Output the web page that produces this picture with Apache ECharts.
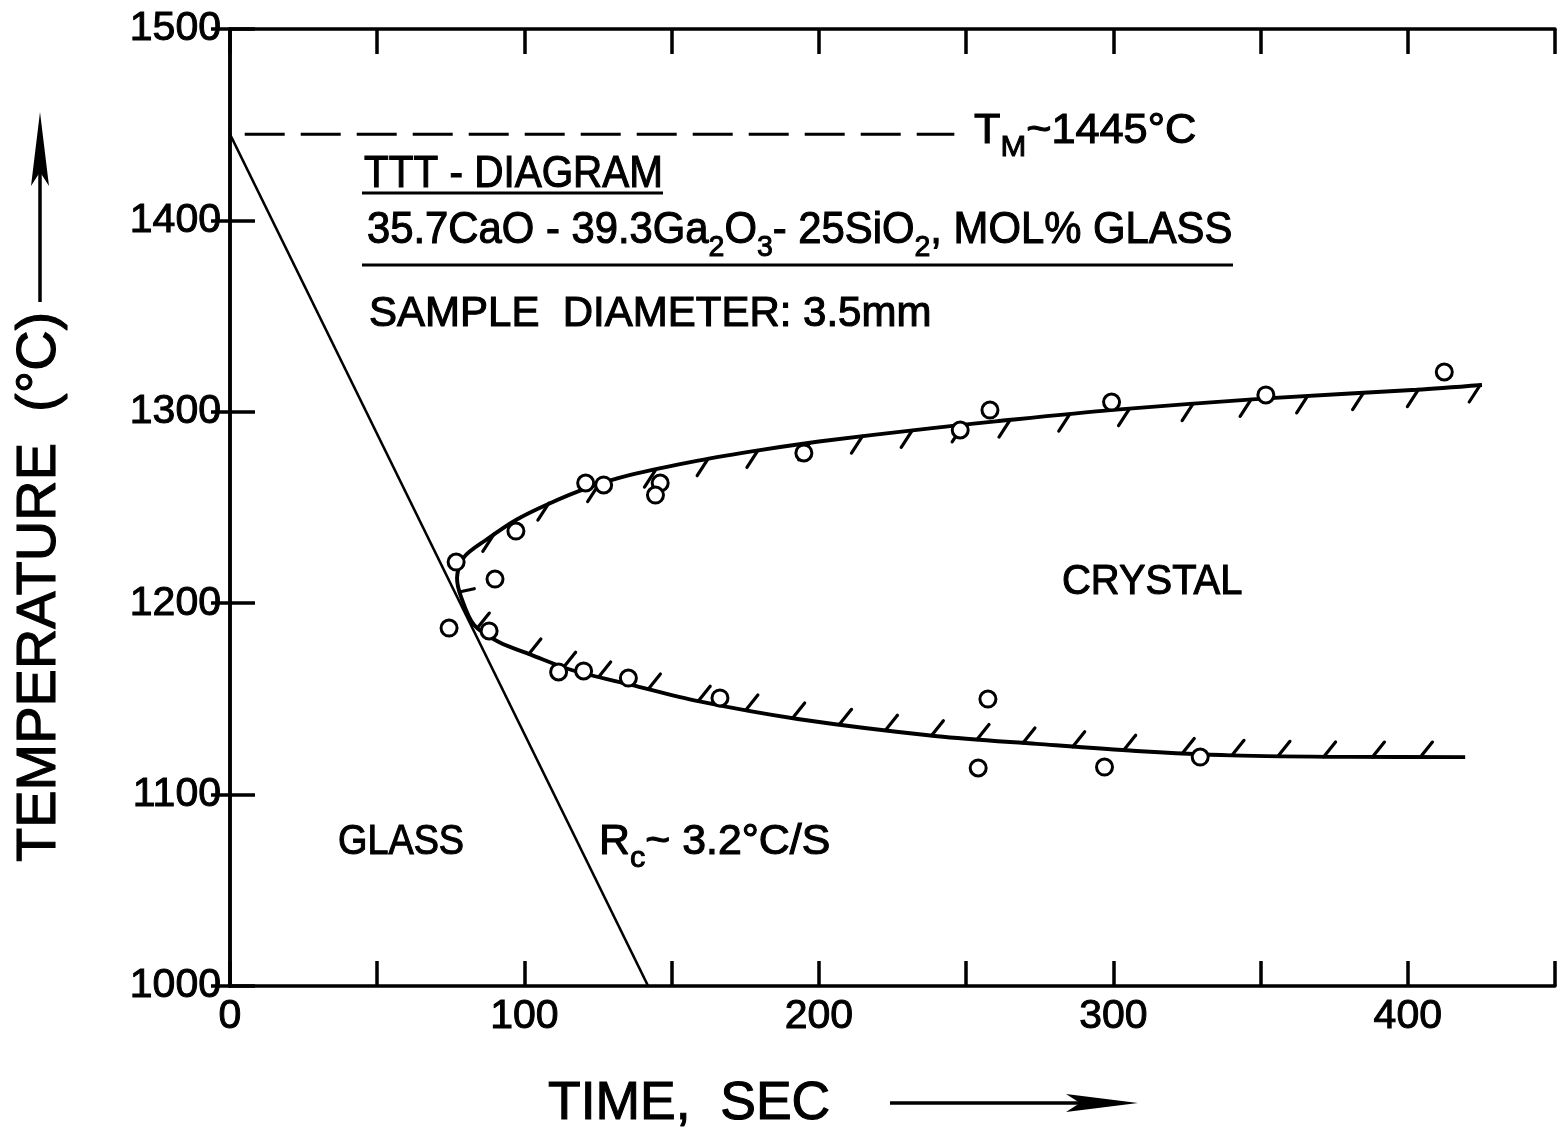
<!DOCTYPE html>
<html><head><meta charset="utf-8">
<script src="https://cdn.jsdelivr.net/npm/echarts@6/dist/echarts.min.js"></script>
<style>html,body{margin:0;padding:0;background:#fff}#c{width:1558px;height:1134px}</style>
</head><body><div id="c"></div>
<script>
// ---- data ----
var xTickLabels = [0, 100, 200, 300, 400];
var yTickLabels = [1000, 1100, 1200, 1300, 1400, 1500];
var meltLine = [[5, 1445], [246, 1445]];
var coolingLine = [[0, 1445], [142, 1000]];
// TTT nose curve (upper branch from right to nose, then lower branch to right)
var tttCurve = [
  [425.2, 1314.0], [403.0, 1311.5], [352.0, 1307.0], [300.0, 1301.0], [260.0, 1295.0],
  [237.0, 1291.2], [200.0, 1284.5], [180.0, 1280.0], [159.0, 1274.5], [136.0, 1267.0],
  [121.0, 1260.0], [108.3, 1252.0], [97.1, 1243.5], [86.9, 1233.0], [79.5, 1224.1],
  [77.1, 1213.2], [78.5, 1203.2], [82.9, 1188.6], [91.3, 1179.7], [102.5, 1172.9],
  [116.0, 1165.1], [136.3, 1157.3], [159.0, 1148.8], [192.8, 1139.5], [240.2, 1130.5],
  [274.0, 1126.5], [307.8, 1122.8], [340.0, 1120.5], [380.0, 1119.7], [419.5, 1119.6]
];
// measured points (time s, temperature C)
var measured = [
  [76.8, 1221.5], [74.4, 1187.0], [90.0, 1212.6], [88.0, 1185.5], [97.1, 1237.7],
  [120.8, 1262.8], [126.9, 1261.8], [146.1, 1262.8], [144.5, 1256.5], [111.6, 1164.1],
  [120.1, 1164.6], [135.3, 1160.9], [166.4, 1150.5], [194.9, 1278.5], [248.0, 1290.5],
  [258.1, 1300.9], [257.4, 1149.9], [254.1, 1113.9], [299.4, 1305.1], [297.0, 1114.4],
  [329.5, 1119.6], [351.8, 1308.8], [412.4, 1320.8]
];
// hatch anchor points on the curve
var upperHatches = [
  [89.6, 1236.0], [108.3, 1252.3], [125.2, 1262.0], [144.5, 1269.5], [162.4, 1275.5],
  [179.3, 1279.8], [196.9, 1283.8], [214.8, 1287.3], [231.7, 1290.3], [249.0, 1293.2],
  [264.9, 1295.7], [285.2, 1298.8], [305.5, 1301.6], [327.1, 1304.3], [346.8, 1306.5],
  [366.0, 1308.3], [385.0, 1310.0], [403.6, 1311.6], [424.6, 1314.0]
];
var lowerHatches = [
  [84.0, 1187.0], [101.5, 1173.5], [113.3, 1166.6], [125.2, 1161.5], [142.1, 1155.2], [159.0, 1148.8],
  [175.2, 1144.2], [191.1, 1140.0], [207.0, 1136.7], [222.6, 1133.6], [238.2, 1130.8],
  [253.7, 1128.8], [269.3, 1127.0], [286.2, 1125.0], [303.5, 1123.2], [323.4, 1121.5],
  [340.3, 1120.5], [355.9, 1120.0], [371.4, 1119.7], [388.0, 1119.6], [404.3, 1119.6]
];
var noseHatches = [[78.2, 1206.0]];

// ---- chart ----
var FONT = 'Liberation Sans';
var chart = echarts.init(document.getElementById('c'), null, {renderer: 'canvas'});
var hatchData = upperHatches.map(function (p) { return [p[0], p[1], 1]; })
  .concat(lowerHatches.map(function (p) { return [p[0], p[1], 2]; }))
  .concat(noseHatches.map(function (p) { return [p[0], p[1], 3]; }));

function txt(x, y, text, size, sx, extra, rot) {
  var o = {
    type: 'text', x: x, y: y, scaleX: sx || 1, rotation: rot || 0, z: 100,
    style: {
      text: text, fontFamily: FONT, fontSize: size, fill: '#000',
      stroke: '#000', lineWidth: 1.1,
      textAlign: 'left', textVerticalAlign: 'middle'
    }
  };
  if (extra) { for (var k in extra) o.style[k] = extra[k]; }
  return o;
}
var subRich = {
  s: {fontSize: 30, fontFamily: FONT, fill: '#000', stroke: '#000', lineWidth: 1,
      verticalAlign: 'bottom', lineHeight: 30}
};

var axisCommon = {
  type: 'value',
  axisLine: {show: true, lineStyle: {color: '#000', width: 3.5}},
  axisTick: {show: true, inside: true, length: 25, lineStyle: {color: '#000', width: 3.5}},
  splitLine: {show: false}
};
var labelStyle = {
  show: true, fontFamily: FONT, fontSize: 41, color: '#000',
  textBorderColor: '#000', textBorderWidth: 1
};

chart.setOption({
  backgroundColor: '#fff',
  animation: false,
  grid: {left: 230, top: 29, right: -4, bottom: 148, containLabel: false},
  xAxis: [
    Object.assign({}, axisCommon, {
      min: 0, max: 450, interval: 50, position: 'bottom',
      axisLabel: Object.assign({}, labelStyle, {
        margin: 10,
        formatter: function (v) { return xTickLabels.indexOf(v) >= 0 ? String(v) : ''; }
      })
    }),
    Object.assign({}, axisCommon, {
      min: 0, max: 450, interval: 50, position: 'top', axisLabel: {show: false}
    })
  ],
  yAxis: [
    Object.assign({}, axisCommon, {
      min: 1000, max: 1500, interval: 100, position: 'left',
      axisLabel: Object.assign({}, labelStyle, {
        margin: 9,
        formatter: function (v) { return yTickLabels.indexOf(v) >= 0 ? String(v) : ''; }
      })
    }),
    Object.assign({}, axisCommon, {
      min: 1000, max: 1500, interval: 100, position: 'right',
      axisTick: {show: true, inside: true, length: 19, lineStyle: {color: '#000', width: 3.5}},
      axisLabel: {show: false}
    })
  ],
  series: [
    {
      type: 'line', data: meltLine, symbol: 'none', silent: true,
      lineStyle: {color: '#000', width: 3, type: [40, 16]}
    },
    {
      type: 'line', data: coolingLine, symbol: 'none', silent: true,
      lineStyle: {color: '#000', width: 2.6}
    },
    {
      type: 'line', data: tttCurve, symbol: 'none', smooth: 0.3, silent: true,
      lineStyle: {color: '#000', width: 3.9}
    },
    {
      type: 'custom', data: hatchData, silent: true,
      renderItem: function (params, api) {
        var p = api.coord([api.value(0), api.value(1)]);
        var side = api.value(2);
        var d = side === 1 ? [-11, 17] : (side === 2 ? [12, -15] : [14, -3]);
        return {
          type: 'line',
          shape: {x1: p[0], y1: p[1], x2: p[0] + d[0], y2: p[1] + d[1]},
          style: {stroke: '#000', lineWidth: 3.2, lineCap: 'round'}
        };
      }
    },
    {
      type: 'scatter', data: measured, symbol: 'circle', symbolSize: 16, z: 10,
      itemStyle: {color: '#fff', borderColor: '#000', borderWidth: 3, opacity: 1}
    }
  ],
  graphic: [
    // melting temperature label
    txt(974, 131, 'T{s|M}~1445°C', 42, 1.03, {rich: subRich, lineHeight: 64}),
    // title block
    txt(364, 175, 'TTT - DIAGRAM', 44, 0.92),
    {type: 'line', shape: {x1: 362, y1: 193, x2: 663, y2: 193}, style: {stroke: '#000', lineWidth: 3}, z: 100},
    txt(367, 231, '35.7CaO - 39.3Ga{s|2}O{s|3}- 25SiO{s|2}, MOL% GLASS', 44, 0.95, {rich: subRich, lineHeight: 64}),
    {type: 'line', shape: {x1: 362, y1: 265, x2: 1233, y2: 265}, style: {stroke: '#000', lineWidth: 3}, z: 100},
    txt(369, 314, 'SAMPLE  DIAMETER: 3.5mm', 42, 1.0),
    // region labels
    txt(1062, 582, 'CRYSTAL', 42, 0.95),
    txt(338, 842, 'GLASS', 42, 0.9),
    txt(599, 842, 'R{s|c}~ 3.2°C/S', 42, 1.02, {rich: subRich, lineHeight: 64}),
    // axis titles
    txt(40, 862, 'TEMPERATURE  (°C)', 56, 1.0, null, Math.PI / 2),
    {type: 'line', shape: {x1: 40, y1: 302, x2: 40, y2: 150}, style: {stroke: '#000', lineWidth: 3.5}, z: 100},
    {type: 'polygon', shape: {points: [[40, 112], [49, 186], [40, 172], [31, 186]]}, style: {fill: '#000'}, z: 100},
    txt(548, 1104, 'TIME,  SEC', 54, 0.99),
    {type: 'line', shape: {x1: 890, y1: 1103, x2: 1110, y2: 1103}, style: {stroke: '#000', lineWidth: 3.5}, z: 100},
    {type: 'polygon', shape: {points: [[1138, 1103], [1066, 1094], [1080, 1103], [1066, 1112]]}, style: {fill: '#000'}, z: 100}
  ]
});
</script>
</body></html>
